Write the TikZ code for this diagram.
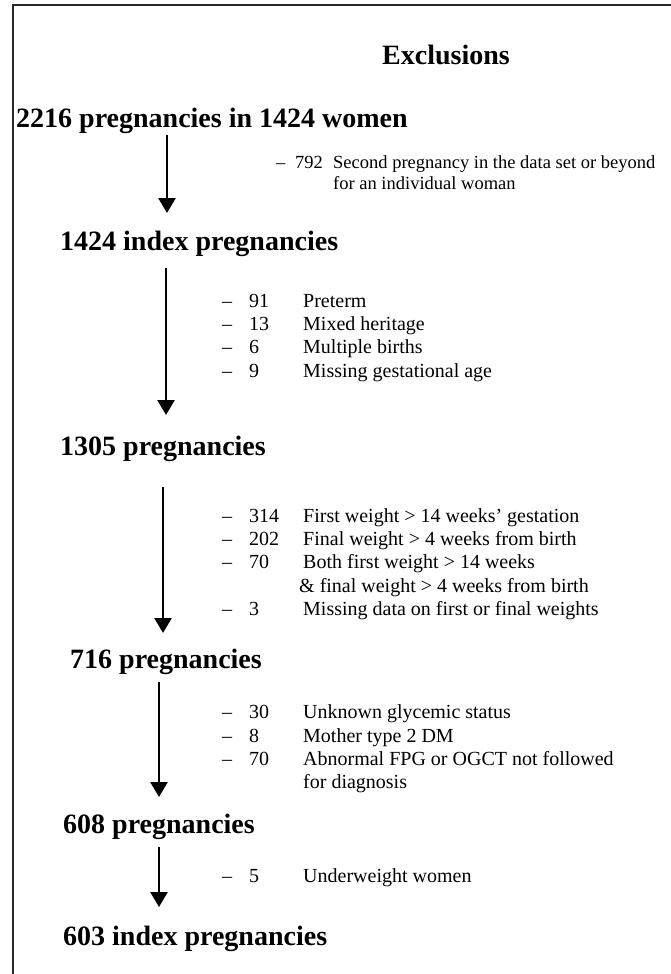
\documentclass[tikz,border=0pt]{standalone}
\usepackage{fontspec}
\setmainfont{Liberation Serif}
\usetikzlibrary{arrows.meta}
\tikzset{
  head/.style={anchor=base west, inner sep=0pt, font=\fontsize{28}{33}\selectfont\bfseries},
  body/.style={anchor=base west, inner sep=0pt, font=\fontsize{20}{23}\selectfont},
  bodysm/.style={anchor=base west, inner sep=0pt, font=\fontsize{18.5}{21}\selectfont},
  flow/.style={line width=2.6pt, -{Triangle[width=17pt,length=15pt]}},
  frame/.style={line width=1.8pt, black!85}
}
\begin{document}
\begin{tikzpicture}[x=1pt,y=-1pt]
\useasboundingbox (0,0) rectangle (670,974);
% frame
\coordinate (fc) at (13,5);
\coordinate (fr) at (672,5);
\coordinate (fb) at (13,976);
\draw[frame] (fr) -- (fc) -- (fb);

\node[head] (exc) at (382,65) {Exclusions};

% headings
\node[head] (h1) at (16,127) {2216 pregnancies in 1424 women};
\node[head] (h2) at (60,250) {1424 index pregnancies};
\node[head] (h3) at (60,455) {1305 pregnancies};
\node[head] (h4) at (70,668) {716 pregnancies};
\node[head] (h5) at (63,833) {608 pregnancies};
\node[head] (h6) at (63,945) {603 index pregnancies};

% arrows
\coordinate (a1s) at (167,135); \coordinate (a1e) at (167,213);
\coordinate (a2s) at (166,268); \coordinate (a2e) at (166,415);
\coordinate (a3s) at (163,487); \coordinate (a3e) at (163,633);
\coordinate (a4s) at (159,682); \coordinate (a4e) at (159,797);
\coordinate (a5s) at (159,847); \coordinate (a5e) at (159,907);
\draw[flow] (a1s) -- (a1e);
\draw[flow] (a2s) -- (a2e);
\draw[flow] (a3s) -- (a3e);
\draw[flow] (a4s) -- (a4e);
\draw[flow] (a5s) -- (a5e);

% block 1
\node[bodysm] (d1) at (276,168) {–};
\node[bodysm] (n1) at (295,168) {792};
\node[bodysm] (t1) at (333,168) {Second pregnancy in the data set or beyond};
\node[bodysm] (t1b) at (333,189) {for an individual woman};

% block 2
\node[body] (d21) at (222,307) {–}; \node[body] (n21) at (249,307) {91}; \node[body] (t21) at (303,307) {Preterm};
\node[body] (d22) at (222,330) {–}; \node[body] (n22) at (249,330) {13}; \node[body] (t22) at (303,330) {Mixed heritage};
\node[body] (d23) at (222,353) {–}; \node[body] (n23) at (249,353) {6}; \node[body] (t23) at (303,353) {Multiple births};
\node[body] (d24) at (222,377) {–}; \node[body] (n24) at (249,377) {9}; \node[body] (t24) at (303,377) {Missing gestational age};

% block 3
\node[body] (d31) at (222,522) {–}; \node[body] (n31) at (249,522) {314}; \node[body] (t31) at (303,522) {First weight > 14 weeks’ gestation};
\node[body] (d32) at (222,545) {–}; \node[body] (n32) at (249,545) {202}; \node[body] (t32) at (303,545) {Final weight > 4 weeks from birth};
\node[body] (d33) at (222,568) {–}; \node[body] (n33) at (249,568) {70}; \node[body] (t33) at (303,568) {Both first weight > 14 weeks};
\node[body] (t33b) at (299,592) {\& final weight > 4 weeks from birth};
\node[body] (d34) at (222,615) {–}; \node[body] (n34) at (249,615) {3}; \node[body] (t34) at (303,615) {Missing data on first or final weights};

% block 4
\node[body] (d41) at (222,718) {–}; \node[body] (n41) at (249,718) {30}; \node[body] (t41) at (303,718) {Unknown glycemic status};
\node[body] (d42) at (222,742) {–}; \node[body] (n42) at (249,742) {8}; \node[body] (t42) at (303,742) {Mother type 2 DM};
\node[body] (d43) at (222,765) {–}; \node[body] (n43) at (249,765) {70}; \node[body] (t43) at (303,765) {Abnormal FPG or OGCT not followed};
\node[body] (t43b) at (303,788) {for diagnosis};

% block 5
\node[body] (d51) at (222,882) {–}; \node[body] (n51) at (249,882) {5}; \node[body] (t51) at (303,882) {Underweight women};
\end{tikzpicture}
\end{document}
